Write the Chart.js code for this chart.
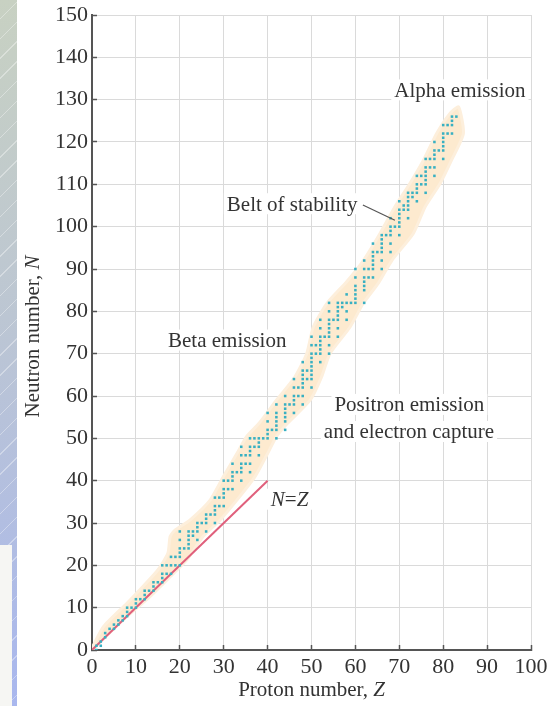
<!DOCTYPE html>
<html lang="en">
<head>
    <meta charset="UTF-8">
    <title>Belt of stability</title>
    <script src="https://cdn.jsdelivr.net/npm/chart.js"></script>
    <style>
        html, body { margin: 0; padding: 0; background: #fff; }
        body { width: 547px; height: 706px; position: relative; overflow: hidden; }
        .strip {
            position: absolute; left: 0; top: 0; width: 17px; height: 706px;
            background:
                repeating-linear-gradient(135deg, rgba(255,255,255,0) 0 13px, rgba(255,255,255,0.35) 13px 14px),
                linear-gradient(to bottom, #c8d1c2 0%, #bcc6d3 45%, #a9b7ee 100%);
        }
        .note { position: absolute; left: 0; top: 545px; width: 12px; height: 161px; background: #f6f6f3; }
        .chart-box { position: absolute; left: 0; top: 0; width: 547px; height: 706px; }
    </style>
</head>
<body>
    <div class="strip"></div>
    <div class="note"></div>
    <div class="chart-box">
        <canvas id="chart"></canvas>
    </div>
    <script>
        const xTicks = [0, 10, 20, 30, 40, 50, 60, 70, 80, 90, 100];
        const yTicks = [0, 10, 20, 30, 40, 50, 60, 70, 80, 90, 100, 110, 120, 130, 140, 150];

        // stable neutron numbers, index = proton number Z
        const stableN = [
            [], [0, 1], [1, 2], [3, 4], [5], [5, 6], [6, 7], [7, 8], [8, 9, 10], [10],
            [10, 11, 12], [12], [12, 13, 14], [14], [14, 15, 16], [16], [16, 17, 18, 20], [18, 20], [18, 20, 22], [20, 22],
            [20, 22, 23, 24, 26, 28], [24], [24, 25, 26, 27, 28], [27, 28], [26, 28, 29, 30], [30], [28, 30, 31, 32], [32], [30, 32, 33, 34, 36], [34, 36],
            [34, 36, 37, 38, 40], [38, 40], [38, 40, 41, 42, 44], [42], [40, 42, 43, 44, 46, 48], [44, 46], [42, 44, 46, 47, 48, 50], [48, 50], [46, 48, 49, 50], [50],
            [50, 51, 52, 54, 56], [52], [50, 52, 53, 54, 55, 56, 58], [], [52, 54, 55, 56, 57, 58, 60], [58], [56, 58, 59, 60, 62, 64], [60, 62], [58, 60, 62, 63, 64, 65, 66, 68], [64, 66],
            [62, 64, 65, 66, 67, 68, 69, 70, 72, 74], [70, 72], [68, 70, 71, 72, 73, 74, 76, 78], [74], [70, 72, 74, 75, 76, 77, 78, 80, 82], [78], [74, 76, 78, 79, 80, 81, 82], [81, 82], [78, 80, 82, 84], [82],
            [82, 83, 84, 85, 86, 88, 90], [], [82, 85, 86, 87, 88, 90, 92], [88, 90], [88, 90, 91, 92, 93, 94, 96], [94], [90, 92, 94, 95, 96, 97, 98], [98], [94, 96, 98, 99, 100, 102], [100],
            [98, 100, 101, 102, 103, 104, 106], [104, 105], [102, 104, 105, 106, 107, 108], [107, 108], [106, 108, 109, 110, 112], [110, 112], [108, 110, 111, 112, 113, 114, 116], [114, 116], [112, 114, 116, 117, 118, 120], [118],
            [116, 118, 119, 120, 121, 122, 124], [122, 124], [122, 124, 125, 126], [126]
        ];

        // outline of the shaded belt: up the left edge, back down the right edge
        const bandZ = [0, 2.6, 7.9, 11.6, 15, 17.3, 17.8, 18.9, 22.3, 26.9, 29.9, 33, 35.2, 38, 42, 46.2, 48.9, 50.4, 53.5, 58, 61.8, 65.6, 69, 72.4, 75.5, 78.5, 81.5, 83.5,
                       84.6, 81.9, 79.3, 75.9, 73.2, 68.3, 65.2, 61.8, 58.8, 54.2, 52.3, 49.7, 44.5, 42, 40, 37.1, 33, 29.2, 25.3, 21.6, 17.8, 13.2, 7.1, 0];
        const bandN = [0.5, 5.5, 11, 15, 18.9, 22.9, 26.8, 28.3, 30.7, 35.4, 40.9, 46.4, 50.4, 53.5, 59, 64.5, 70, 76.3, 81.9, 87, 92, 98.4, 104.7, 110.2, 115.7, 122, 126.7, 128.3,
                       122, 115.7, 110.2, 104.7, 98.4, 92, 86.6, 81.9, 76.3, 70, 64.5, 59, 53.5, 50.4, 46.4, 40.9, 35.4, 30.7, 26.8, 21.3, 17.3, 12.6, 7.1, 0];

        const diagZ = [0, 40];
        const diagN = [0, 40];

        const notes = [
            { text: 'Alpha emission', z: 83.8, n: 132.2 },
            { text: 'Belt of stability', z: 45.6, n: 105.3 },
            { text: 'Beta emission', z: 30.8, n: 73.1 },
            { text: 'Positron emission', z: 72.3, n: 57.9 },
            { text: 'and electron capture', z: 72.2, n: 51.5 }
        ];
        const pointer = { z1: 61.7, n1: 105.1, z2: 69.0, n2: 101.5 };
        const nzLabel = { z: 45, n: 35.5 };

        const serif = '"Liberation Serif", "Times New Roman", serif';
        const textColor = '#333';

        const nuclides = [];
        stableN.forEach((ns, z) => ns.forEach(n => nuclides.push({ x: z, y: n })));
        const band = bandZ.map((z, i) => ({ x: z, y: bandN[i] }));
        const diag = diagZ.map((z, i) => ({ x: z, y: diagN[i] }));

        function drawParts(ctx, parts, cx, cy) {
            let total = 0;
            parts.forEach(p => { ctx.font = p.font; p.w = ctx.measureText(p.text).width; total += p.w; });
            let x = cx - total / 2;
            parts.forEach(p => {
                ctx.font = p.font;
                ctx.fillText(p.text, x, cy);
                x += p.w;
            });
            return total;
        }

        const notesPlugin = {
            id: 'notes',
            afterDatasetsDraw(chart) {
                const ctx = chart.ctx;
                const xs = chart.scales.x, ys = chart.scales.y;
                ctx.save();
                ctx.textBaseline = 'middle';
                ctx.textAlign = 'left';
                ctx.font = '21px ' + serif;

                // pointer line to the belt
                ctx.strokeStyle = '#555';
                ctx.lineWidth = 1.2;
                ctx.beginPath();
                ctx.moveTo(xs.getPixelForValue(pointer.z1), ys.getPixelForValue(pointer.n1));
                ctx.lineTo(xs.getPixelForValue(pointer.z2), ys.getPixelForValue(pointer.n2));
                ctx.stroke();

                notes.forEach(nt => {
                    const cx = xs.getPixelForValue(nt.z);
                    const cy = ys.getPixelForValue(nt.n);
                    const w = ctx.measureText(nt.text).width;
                    ctx.fillStyle = '#fff';
                    ctx.fillRect(cx - w / 2 - 3, cy - 11, w + 6, 21);
                    ctx.fillStyle = textColor;
                    ctx.fillText(nt.text, cx - w / 2, cy + 1);
                });

                // N=Z label
                const parts = [
                    { text: 'N', font: 'italic 21px ' + serif },
                    { text: '=', font: '21px ' + serif },
                    { text: 'Z', font: 'italic 21px ' + serif }
                ];
                const cx = xs.getPixelForValue(nzLabel.z);
                const cy = ys.getPixelForValue(nzLabel.n);
                ctx.fillStyle = '#fff';
                ctx.fillRect(cx - 26, cy - 11, 52, 21);
                ctx.fillStyle = textColor;
                drawParts(ctx, parts, cx, cy + 1);
                ctx.restore();
            },
            afterDraw(chart) {
                const ctx = chart.ctx;
                const area = chart.chartArea;
                ctx.save();
                ctx.fillStyle = textColor;
                ctx.textBaseline = 'middle';
                ctx.textAlign = 'left';
                // x axis title
                drawParts(ctx, [
                    { text: 'Proton number, ', font: '21px ' + serif },
                    { text: 'Z', font: 'italic 21px ' + serif }
                ], (area.left + area.right) / 2, 690);
                // y axis title
                ctx.translate(33, (area.top + area.bottom) / 2 + 4);
                ctx.rotate(-Math.PI / 2);
                drawParts(ctx, [
                    { text: 'Neutron number, ', font: '21px ' + serif },
                    { text: 'N', font: 'italic 21px ' + serif }
                ], 0, 0);
                ctx.restore();
            }
        };

        function axis(min, max, values, fit) {
            return {
                type: 'linear',
                min: min,
                max: max,
                afterBuildTicks: s => { s.ticks = values.map(v => ({ value: v })); },
                afterFit: s => {
                    fit(s);
                    // keep the plot box where the layout padding puts it
                    s.paddingLeft = 0;
                    s.paddingRight = 0;
                    s.paddingTop = 0;
                    s.paddingBottom = 0;
                },
                ticks: {
                    font: { family: serif, size: 22 },
                    color: textColor,
                    padding: 9,
                    maxRotation: 0,
                    autoSkip: false
                },
                grid: {
                    color: '#dadada',
                    lineWidth: 1,
                    tickColor: '#555',
                    tickLength: -5,
                    tickWidth: 1.5
                },
                border: { color: '#555', width: 2 }
            };
        }

        new Chart(document.getElementById('chart'), {
            type: 'scatter',
            data: {
                datasets: [
                    {
                        label: 'Stable nuclides',
                        data: nuclides,
                        pointStyle: 'rect',
                        pointRadius: 1.8,
                        pointHoverRadius: 1.8,
                        backgroundColor: '#38b0c2',
                        borderWidth: 0,
                        order: 1
                    },
                    {
                        label: 'N = Z',
                        data: diag,
                        showLine: true,
                        borderColor: '#e0607c',
                        borderWidth: 2,
                        pointRadius: 0,
                        order: 2
                    },
                    {
                        label: 'Belt of stability',
                        data: band,
                        showLine: true,
                        fill: 'shape',
                        backgroundColor: '#fdeacf',
                        borderColor: '#fdefdc',
                        borderWidth: 3,
                        borderJoinStyle: 'round',
                        tension: 0.2,
                        pointRadius: 0,
                        order: 3
                    }
                ]
            },
            options: {
                responsive: true,
                maintainAspectRatio: false,
                animation: false,
                events: [],
                layout: { padding: { top: 15, right: 16, left: 0, bottom: 0 } },
                plugins: {
                    legend: { display: false },
                    tooltip: { enabled: false }
                },
                scales: {
                    x: axis(0, 100, xTicks, s => { s.height = 56; }),
                    y: axis(0, 150, yTicks, s => { s.width = 92; })
                }
            },
            plugins: [notesPlugin]
        });
    </script>
</body>
</html>
